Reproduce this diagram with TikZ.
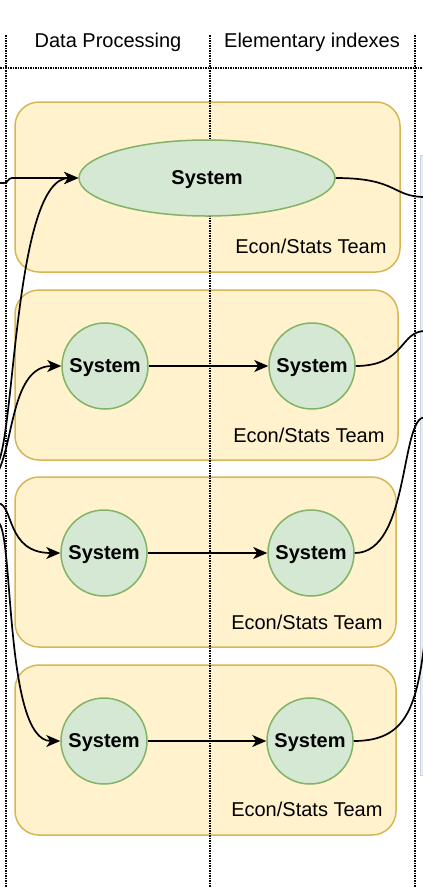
\documentclass[tikz,border=0pt]{standalone}
\usepackage{fontspec}
\setmainfont{Liberation Sans}
\usepackage{tikz}
\usetikzlibrary{arrows.meta,shapes.geometric}
\definecolor{boxfill}{HTML}{FFF2CC}
\definecolor{boxline}{HTML}{D6B656}
\definecolor{sysfill}{HTML}{D5E8D4}
\definecolor{sysline}{HTML}{82B366}
\definecolor{lanefill}{HTML}{E8EEF6}
\definecolor{laneline}{HTML}{C9D3E0}

\begin{document}
\begin{tikzpicture}[x=1pt,y=-1pt,
  every node/.style={font=\fontsize{20}{24}\selectfont},
  team/.style={draw=boxline,fill=boxfill,line width=1.5pt,rounded corners=24pt},
  sys/.style={circle,draw=sysline,fill=sysfill,line width=1.5pt,minimum size=86pt,inner sep=0pt,text depth=0pt,font=\fontsize{20}{24}\selectfont\bfseries},
  lane/.style={densely dotted,line width=1.5pt},
  flow/.style={line width=1.7pt,-{Stealth[length=14pt,width=12pt,inset=4pt]}},
  link/.style={line width=1.7pt}]
		\useasboundingbox (0,0) rectangle (423,887);
		\clip (0,0) rectangle (423,887);
		% next lane, only its edge shows
		\filldraw[fill=lanefill,draw=laneline,line width=1pt] (420.5,155) rectangle (440,775);
		% team boxes
		\draw[team] (15,102) rectangle (400,272);
		\draw[team] (15,290) rectangle (398,460);
		\draw[team] (15,477) rectangle (396,647);
		\draw[team] (15,665) rectangle (396,835);
		% lanes
		\draw[lane] (0,68) -- (423,68);
		\foreach \x in {6, 210, 415} {
		  \draw[lane] (\x,35) -- (\x,887);
		}
		\node (headDP) at (108,42) {Data Processing};
		\node (headEI) at (312,42) {Elementary indexes};
		% systems
		\node[sys,ellipse,minimum width=256pt,minimum height=76pt] (sysA) at (207,178) {System};
		\node[sys] (sysB1) at (105,366) {System};
		\node[sys] (sysB2) at (312,366) {System};
		\node[sys] (sysC1) at (104,553) {System};
		\node[sys] (sysC2) at (311,553) {System};
		\node[sys] (sysD1) at (104,741) {System};
		\node[sys] (sysD2) at (310,741) {System};
		\node[anchor=east] (teamA) at (390,246) {Econ/Stats Team};
		\node[anchor=east] (teamB) at (388,435) {Econ/Stats Team};
		\node[anchor=east] (teamC) at (386,622) {Econ/Stats Team};
		\node[anchor=east] (teamD) at (386,809) {Econ/Stats Team};
		% incoming from the left lane
		\coordinate (inA) at (-2,183);
		\coordinate (inA2) at (-2,463);
		\coordinate (inB) at (-2,472);
		\coordinate (inC) at (-2,503);
		\coordinate (inD) at (-2,522);
		\draw[flow] (inA) -- (4,183) .. controls (8,183) and (8,178) .. (12,178) -- (sysA.west);
		\draw[flow] (inA2) .. controls (15,430) and (15,178) .. (sysA.west);
		\draw[flow] (inB) .. controls (14,440) and (12,366) .. (sysB1.west);
		\draw[flow] (inC) .. controls (14,505) and (6,553) .. (sysC1.west);
		\draw[flow] (inD) .. controls (14,530) and (4,741) .. (sysD1.west);
		\draw[flow] (sysB1) -- (sysB2);
		\draw[flow] (sysC1) -- (sysC2);
		\draw[flow] (sysD1) -- (sysD2);
		% outgoing to the right lane
		\coordinate (outA) at (425,197);
		\coordinate (outB) at (425,331);
		\coordinate (outC) at (425,417);
		\coordinate (outD) at (428,610);
		\draw[link] (sysA.east) .. controls (398,178) and (392,197) .. (outA);
		\draw[link] (sysB2.east) .. controls (405,366) and (400,331) .. (outB);
		\draw[link] (sysC2.east) .. controls (410,553) and (400,417) .. (outC);
		\draw[link] (sysD2.east) .. controls (412,741) and (419,700) .. (outD);
	\end{tikzpicture}
\end{document}
